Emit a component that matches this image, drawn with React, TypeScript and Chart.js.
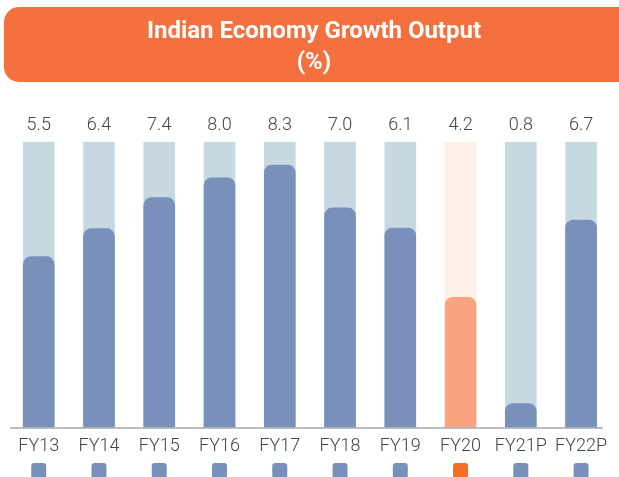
import React, { useEffect, useRef } from "react";
import { Chart, registerables } from "chart.js";

Chart.register(...registerables);

const categories = ["FY13", "FY14", "FY15", "FY16", "FY17", "FY18", "FY19", "FY20", "FY21P", "FY22P"];
// bar heights as drawn in the picture
const growth = [5.5, 6.4, 7.4, 8.04, 8.45, 7.07, 6.42, 4.19, 0.77, 6.68];
// printed value labels
const valueLabels = ["5.5", "6.4", "7.4", "8.0", "8.3", "7.0", "6.1", "4.2", "0.8", "6.7"];
const highlightIndex = 7;
const trackValue = 9.2;
const track = categories.map(() => trackValue);
const titleLines = ["Indian Economy Growth Output", "(%)"];

const BLUE = "#7890BA";
const TRACK_BLUE = "#C6D9E2";
const HL_FG = "#F9A47E";
const HL_BG = "#FEEFE7";
const HL_MARK = "#F26E22";
const TITLE_BG = "#F4703F";
const TEXT = "#454545";

const decor = {
  id: "decor",
  beforeDraw(chart: any) {
    const ctx = chart.ctx;
    ctx.save();
    ctx.fillStyle = "#ffffff";
    ctx.fillRect(0, 0, chart.width, chart.height);
    ctx.fillStyle = TITLE_BG;
    ctx.beginPath();
    ctx.roundRect(4, 7, 640, 75, 15);
    ctx.fill();
    ctx.fillStyle = "#ffffff";
    ctx.font = "bold 24px Roboto";
    ctx.textAlign = "center";
    ctx.textBaseline = "alphabetic";
    const w = ctx.measureText(titleLines[0]).width;
    const sx = 334 / w;
    ctx.translate(314, 0);
    ctx.scale(sx, 1);
    ctx.fillText(titleLines[0], 0, 37.5);
    ctx.fillText(titleLines[1], 0, 68.5);
    ctx.restore();
  },
  afterDatasetsDraw(chart: any) {
    const ctx = chart.ctx;
    const xs = chart.scales.x;
    const y0 = chart.scales.y.getPixelForValue(0);
    ctx.save();
    ctx.strokeStyle = "#A3A7AC";
    ctx.lineWidth = 1.5;
    ctx.beginPath();
    ctx.moveTo(10, y0 + 0.5);
    ctx.lineTo(603, y0 + 0.5);
    ctx.stroke();

    ctx.fillStyle = TEXT;
    ctx.font = "300 18px Roboto";
    ctx.textAlign = "center";
    ctx.textBaseline = "alphabetic";
    categories.forEach((_, i) => {
      ctx.fillText(valueLabels[i], xs.getPixelForValue(i), 130);
    });

    categories.forEach((_, i) => {
      const cx = xs.getPixelForValue(i);
      ctx.fillStyle = i === highlightIndex ? HL_MARK : BLUE;
      ctx.beginPath();
      ctx.roundRect(cx - 7.5, 463, 15, 16, 3);
      ctx.fill();
    });
    ctx.restore();
  },
};

export default function App() {
  const ref = useRef<HTMLCanvasElement | null>(null);

  useEffect(() => {
    if (!ref.current) return;
    const chart = new Chart(ref.current, {
      type: "bar",
      data: {
        labels: categories,
        datasets: [
          {
            data: growth,
            backgroundColor: categories.map((_, i) => (i === highlightIndex ? HL_FG : BLUE)),
            borderRadius: { topLeft: 8, topRight: 8, bottomLeft: 0, bottomRight: 0 },
            borderSkipped: "bottom",
            barThickness: 31,
            grouped: false,
            order: 0,
          },
          {
            data: track,
            backgroundColor: categories.map((_, i) => (i === highlightIndex ? HL_BG : TRACK_BLUE)),
            barThickness: 31,
            grouped: false,
            order: 1,
          },
        ],
      },
      options: {
        responsive: false,
        animation: false,
        devicePixelRatio: 1,
        layout: { padding: { left: 8.6, right: 7.8, top: 141.7, bottom: 12.5 } },
        plugins: { legend: { display: false }, tooltip: { enabled: false }, title: { display: false } },
        scales: {
          x: {
            grid: { display: false, drawTicks: false },
            border: { display: false },
            ticks: { color: TEXT, font: { family: "Roboto", size: 18, weight: "300" }, padding: 7.7, maxRotation: 0, autoSkip: false },
          },
          y: { display: false, min: 0, max: trackValue },
        },
      },
      plugins: [decor],
    });
    return () => chart.destroy();
  }, []);

  return (
    <div style={{ position: "absolute", left: 0, top: 0, width: 619, height: 477, background: "#fff" }}>
      <canvas ref={ref} width={619} height={477} style={{ width: 619, height: 477, display: "block" }} />
    </div>
  );
}
